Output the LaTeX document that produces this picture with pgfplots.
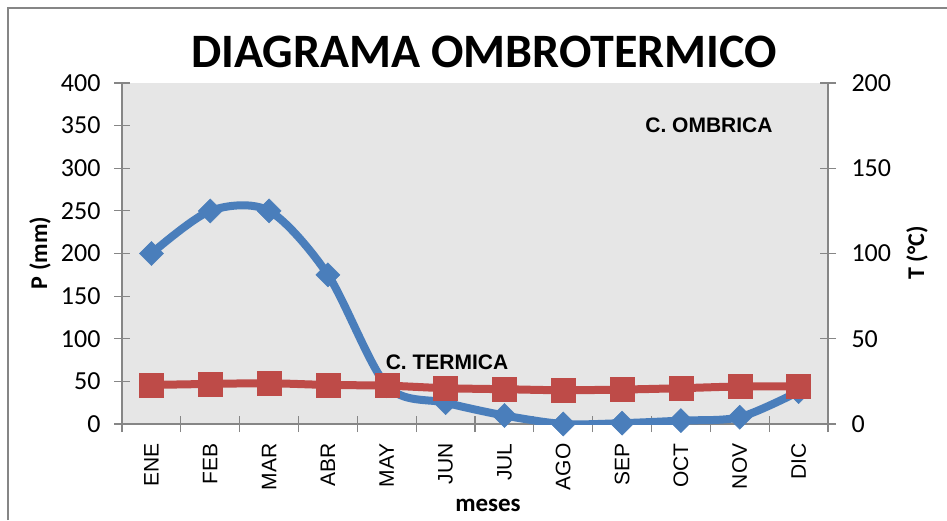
\documentclass[border=0pt]{standalone}
\usepackage{pgfplots}
\pgfplotsset{compat=1.18}
\usepackage{fontspec}
\setmainfont{Carlito}
\newfontfamily\arialf{Liberation Sans}
\definecolor{pblue}{HTML}{4A7EBB}
\definecolor{tred}{HTML}{BE4B48}
\definecolor{plotgray}{HTML}{E6E6E6}
\definecolor{axgray}{HTML}{868686}

\begin{document}
\begin{tikzpicture}
\path[use as bounding box] (-122pt,-96pt) rectangle (825pt,424pt);
\pgfplotsset{
  common/.style={
    width=706pt, height=341pt, scale only axis,
    xmin=-0.5, xmax=11.5,
    axis line style={axgray, line width=1.2pt, -},
    tick style={axgray, line width=1.2pt},
    major tick length=16pt, minor tick length=16pt,
    tick align=center,
    /pgf/number format/assume math mode=true,
    ticklabel style={font=\fontsize{26}{30}\selectfont},
  }
}
% precipitacion (mm), eje izquierdo
\begin{axis}[common,
  axis background/.style={fill=plotgray},
  axis x line*=bottom, axis y line*=left,
  ymin=0, ymax=400, ytick={0,50,...,400},
  yticklabel style={xshift=-10pt},
  xtick={0,...,11},
  xticklabels={ENE,FEB,MAR,ABR,MAY,JUN,JUL,AGO,SEP,OCT,NOV,DIC},
  minor xtick={-0.5,0.5,...,11.5},
  major x tick style={draw=none},
  xticklabel style={rotate=90, anchor=east, xshift=-8pt, font=\arialf\fontsize{21}{25}\selectfont},
]
\addplot[pblue, line width=8pt, smooth, mark=square*,
  mark options={rotate=45, mark size=8.5pt, line width=0.5pt}]
  coordinates {(0,200) (1,250) (2,250) (3,175) (4,45) (5,25)
               (6,10) (7,0) (8,1) (9,4) (10,8) (11,38)};
\end{axis}
% temperatura (C), eje derecho
\begin{axis}[common,
  axis x line=none, axis y line*=right,
  ymin=0, ymax=200, ytick={0,50,...,200},
  yticklabel style={xshift=12pt},
]
\addplot[tred, line width=8pt, smooth, mark=square*,
  mark options={mark size=12pt, line width=0.5pt}]
  coordinates {(0,22.9) (1,23.5) (2,23.9) (3,22.9) (4,22.5) (5,21)
               (6,20.4) (7,19.8) (8,20.2) (9,21) (10,22) (11,22)};
\end{axis}
\draw[axgray, line width=1.5pt] (-114pt,-96pt) -- (-114pt,416pt) -- (825pt,416pt);
\node[font=\bfseries\fontsize{48}{56}\selectfont] at (362pt,372pt) {DIAGRAMA OMBROTERMICO};
\node[font=\bfseries\fontsize{24}{28}\selectfont, rotate=90] at (-82pt,171pt) {P (mm)};
\node[font=\bfseries\fontsize{24}{28}\selectfont, rotate=90] at (795pt,171pt) {T (°C)};
\node[font=\bfseries\fontsize{25}{30}\selectfont] at (366pt,-81pt) {meses};
\node[font=\arialf\bfseries\fontsize{21}{25}\selectfont] at (587pt,299pt) {C. OMBRICA};
\node[font=\arialf\bfseries\fontsize{21}{25}\selectfont] at (325pt,62pt) {C. TERMICA};
\end{tikzpicture}
\end{document}
